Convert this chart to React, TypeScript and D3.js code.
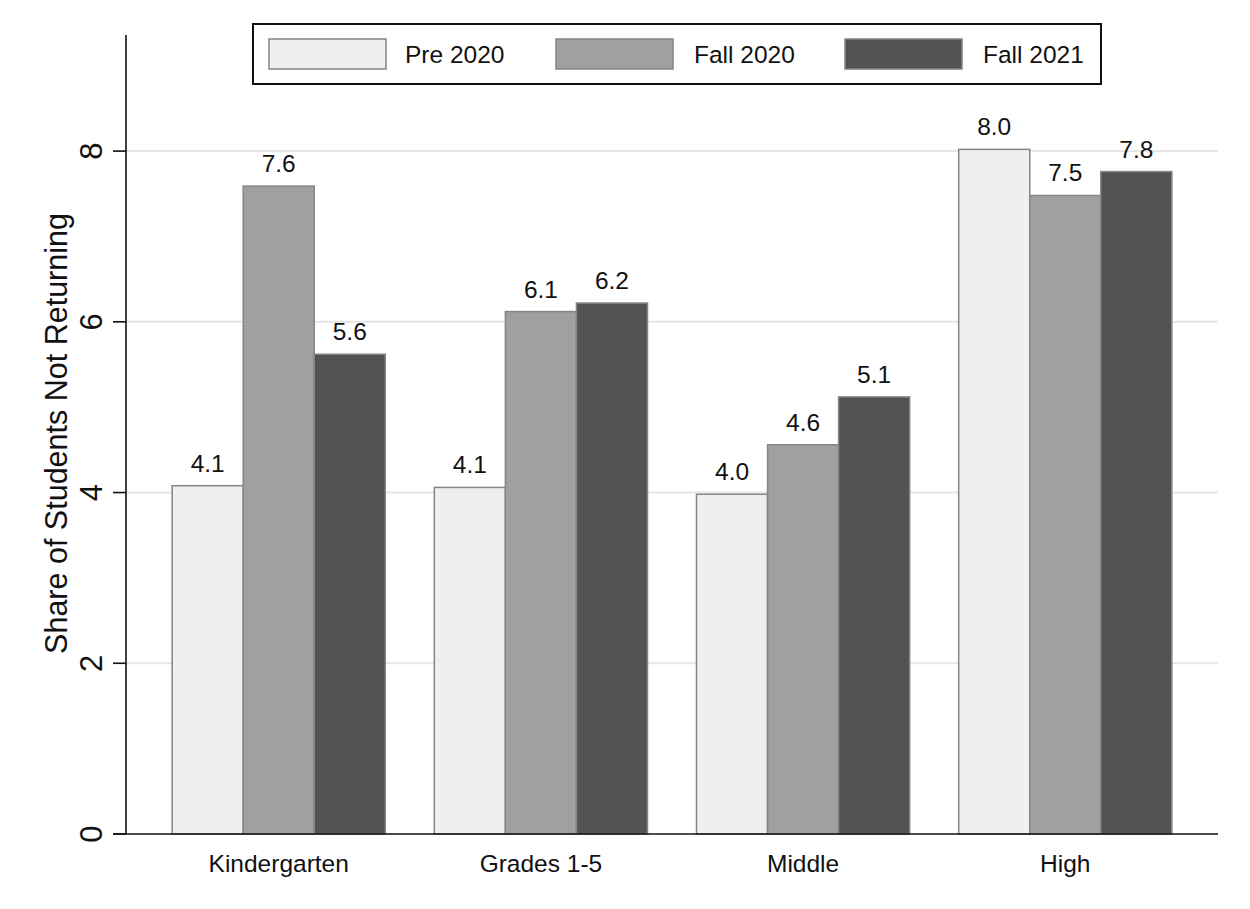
import {scaleBand, scaleLinear} from "d3";

const categories = ["Kindergarten", "Grades 1-5", "Middle", "High"];
const seriesNames = ["Pre 2020", "Fall 2020", "Fall 2021"];
const pre2020 = [4.08, 4.06, 3.98, 8.02];
const fall2020 = [7.59, 6.12, 4.56, 7.48];
const fall2021 = [5.62, 6.22, 5.12, 7.76];
const yTicks = [0, 2, 4, 6, 8];

const seriesValues = [pre2020, fall2020, fall2021];
const seriesColors = ["#efefef", "#a0a0a0", "#525252"];

const W = 1250;
const H = 909;
const FONT = "'Liberation Sans', Arial, sans-serif";

export default function App() {
    const x = scaleBand<string>()
        .domain(categories)
        .range([126, 1218])
        .paddingInner(0.187)
        .paddingOuter(0.176);
    const xInner = scaleBand<string>()
        .domain(seriesNames)
        .range([0, x.bandwidth()]);
    const y = scaleLinear()
        .domain([0, 9.36])
        .range([834, 35]);

    // legend layout: swatch start, text start
    const legendItems = [
        {sx: 269, tx: 405},
        {sx: 556, tx: 694},
        {sx: 845, tx: 983},
    ];

    return <svg width={W} height={H} style={{position: "absolute", left: 0, top: 0, background: "#fff"}}
                fontFamily={FONT}>
        {/* gridlines */}
        {yTicks.filter(t => t !== 0).map(t => (
            <line key={`g${t}`} x1={126} x2={1218} y1={y(t)} y2={y(t)} stroke="#e6e6e6" strokeWidth={2}/>
        ))}
        {/* bars */}
        {categories.map((c, i) => seriesNames.map((s, j) => {
            const v = seriesValues[j][i];
            const bx = (x(c) ?? 0) + (xInner(s) ?? 0);
            return <g key={`${c}-${s}`}>
                <rect x={bx} y={y(v)} width={xInner.bandwidth()} height={y(0) - y(v)}
                      fill={seriesColors[j]} stroke="#858585" strokeWidth={1.5}/>
                <text x={bx + xInner.bandwidth() / 2} y={y(v) - 14} textAnchor="middle" fontSize={24.5}
                      fill="#111">{v.toFixed(1)}</text>
            </g>;
        }))}
        {/* axes */}
        <line x1={126} x2={126} y1={y.range()[1]} y2={y(0)} stroke="#111" strokeWidth={1.6}/>
        <line x1={113} x2={1218} y1={y(0)} y2={y(0)} stroke="#111" strokeWidth={1.6}/>
        {yTicks.map(t => (
            <g key={`t${t}`}>
                <line x1={113} x2={126} y1={y(t)} y2={y(t)} stroke="#111" strokeWidth={1.6}/>
                <text transform={`translate(102,${y(t)}) rotate(-90)`} textAnchor="middle" fontSize={31}
                      fill="#111">{t}</text>
            </g>
        ))}
        {categories.map(c => (
            <text key={`l${c}`} x={(x(c) ?? 0) + x.bandwidth() / 2} y={872} textAnchor="middle" fontSize={24.5}
                  fill="#111">{c}</text>
        ))}
        <text transform={`translate(67,${(210 + 657) / 2}) rotate(-90)`} textAnchor="middle" fontSize={30.5}
              fill="#111">Share of Students Not Returning</text>
        {/* legend */}
        <rect x={253} y={24} width={848} height={60} fill="#fff" stroke="#111" strokeWidth={2}/>
        {seriesNames.map((s, j) => (
            <g key={`lg${s}`}>
                <rect x={legendItems[j].sx} y={39} width={117} height={30} fill={seriesColors[j]}
                      stroke="#858585" strokeWidth={1.5}/>
                <text x={legendItems[j].tx} y={63} fontSize={24.5} fill="#111">{s}</text>
            </g>
        ))}
    </svg>;
}
